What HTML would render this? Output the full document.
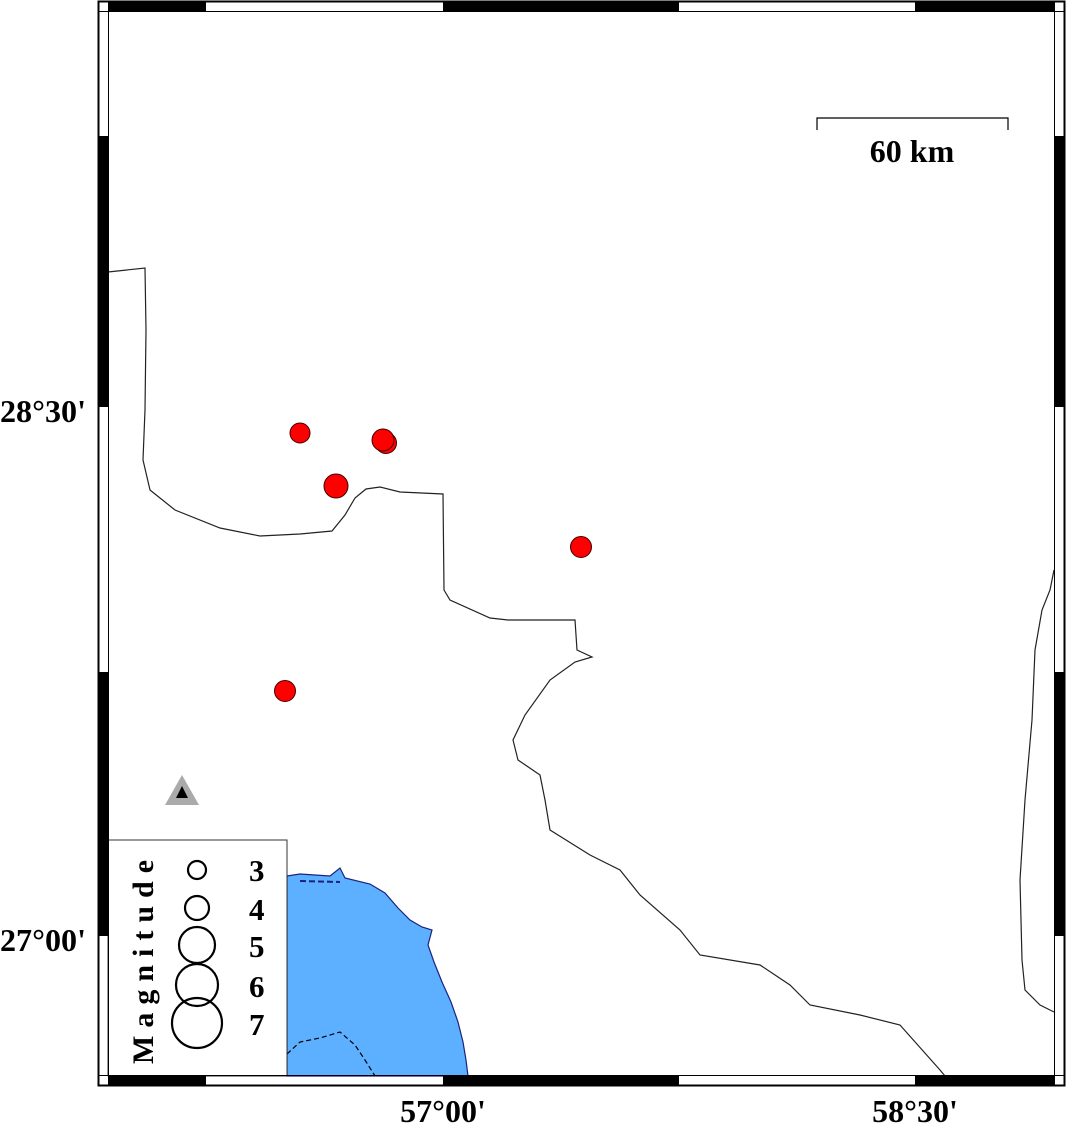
<!DOCTYPE html>
<html><head><meta charset="utf-8"><style>
html,body{margin:0;padding:0;background:#fff;}
svg{display:block;}
text{font-family:"Liberation Serif",serif;font-weight:bold;fill:#000;}
</style></head><body>
<svg width="1066" height="1125" viewBox="0 0 1066 1125" xmlns="http://www.w3.org/2000/svg">
<rect width="1066" height="1125" fill="#fff"/>
<!-- sea -->
<path d="M287,876 L300,874 L330,876 L340,868 L345,878 L370,884 L385,893 L398,908 L410,920 L422,927 L432,930 L428,945 L434,962 L442,982 L451,1002 L458,1022 L463,1042 L466,1060 L468,1076 L287,1076 Z" fill="#5cb0ff" stroke="#1a237e" stroke-width="1.2"/>
<path d="M300,881 L340,882" stroke="#1a237e" stroke-width="2" stroke-dasharray="6,3" fill="none"/>
<path d="M287,1054 L300,1042 L320,1038 L340,1032 L355,1045 L365,1060 L375,1076" stroke="#000" stroke-width="1.2" stroke-dasharray="5,3" fill="none"/>
<!-- borders -->
<polyline fill="none" stroke="#222" stroke-width="1.2" points="108,272 145,268 146,330 145,410 143,460 150,490 175,510 220,528 260,536 300,534 332,531 345,515 355,498 366,489 380,487 400,492 443,494 444,590 450,600 490,618 508,620 575,620 577,650 592,657 575,662 550,680 525,715 513,740 518,760 540,775 545,800 550,830 590,855 620,870 640,895 680,930 700,955 760,965 790,985 810,1005 860,1015 900,1025 940,1070 945,1076"/>
<polyline fill="none" stroke="#222" stroke-width="1.2" points="1054,570 1050,590 1042,610 1035,650 1032,720 1025,800 1020,880 1022,960 1025,990 1040,1005 1054,1012"/>
<!-- events -->
<g fill="#f00" stroke="#400" stroke-width="1">
<circle cx="300" cy="433" r="10"/>
<circle cx="386" cy="443" r="10.5"/>
<circle cx="383" cy="440" r="11"/>
<circle cx="336" cy="486" r="12"/>
<circle cx="581" cy="547" r="10.5"/>
<circle cx="285" cy="691" r="10.5"/>
</g>
<!-- station -->
<polygon points="182,775 165,805 199,805" fill="#aaa"/>
<polygon points="182,786 176,798 188,798" fill="#000"/>
<!-- scale -->
<polyline points="817,130 817,118 1008,118 1008,130" fill="none" stroke="#000" stroke-width="1.2"/>
<text x="912" y="162" font-size="32" text-anchor="middle">60 km</text>
<!-- legend -->
<rect x="108" y="840" width="179" height="236" fill="#fff" stroke="#333" stroke-width="1"/>
<text transform="translate(153,958) rotate(-90)" font-size="30" text-anchor="middle" letter-spacing="8">Magnitude</text>
<g fill="none" stroke="#000" stroke-width="2.2">
<circle cx="197" cy="870" r="9"/>
<circle cx="197" cy="908" r="12"/>
<circle cx="197" cy="945" r="18"/>
<circle cx="197" cy="985" r="21"/>
<circle cx="197" cy="1023" r="25"/>
</g>
<g font-size="31">
<text x="249" y="881">3</text>
<text x="249" y="920">4</text>
<text x="249" y="957">5</text>
<text x="249" y="997">6</text>
<text x="249" y="1035">7</text>
</g>
<!-- frame -->
<g stroke="#000" stroke-width="1">
<rect x="98.5" y="1.5" width="966" height="1084" fill="none" stroke-width="2"/>
<rect x="108.5" y="11.5" width="946" height="1064" fill="none"/>
<line x1="98" y1="11.5" x2="1064" y2="11.5"/>
<line x1="98" y1="1075.5" x2="1064" y2="1075.5"/>
<line x1="108.5" y1="1" x2="108.5" y2="1086"/>
<line x1="1054.5" y1="1" x2="1054.5" y2="1086"/>
</g>
<g fill="#000">
<rect x="108" y="1" width="98" height="10"/>
<rect x="443" y="1" width="236" height="10"/>
<rect x="915" y="1" width="139" height="10"/>
<rect x="108" y="1076" width="98" height="10"/>
<rect x="443" y="1076" width="236" height="10"/>
<rect x="915" y="1076" width="139" height="10"/>
<rect x="98" y="136" width="10" height="271"/>
<rect x="98" y="672" width="10" height="264"/>
<rect x="1054" y="136" width="10" height="271"/>
<rect x="1054" y="672" width="10" height="264"/>
</g>
<g font-size="32">
<text x="0" y="422" textLength="86" lengthAdjust="spacingAndGlyphs">28°30'</text>
<text x="0" y="951" textLength="86" lengthAdjust="spacingAndGlyphs">27°00'</text>
<text x="443" y="1122" text-anchor="middle">57°00'</text>
<text x="915" y="1122" text-anchor="middle">58°30'</text>
</g>
</svg>
</body></html>
